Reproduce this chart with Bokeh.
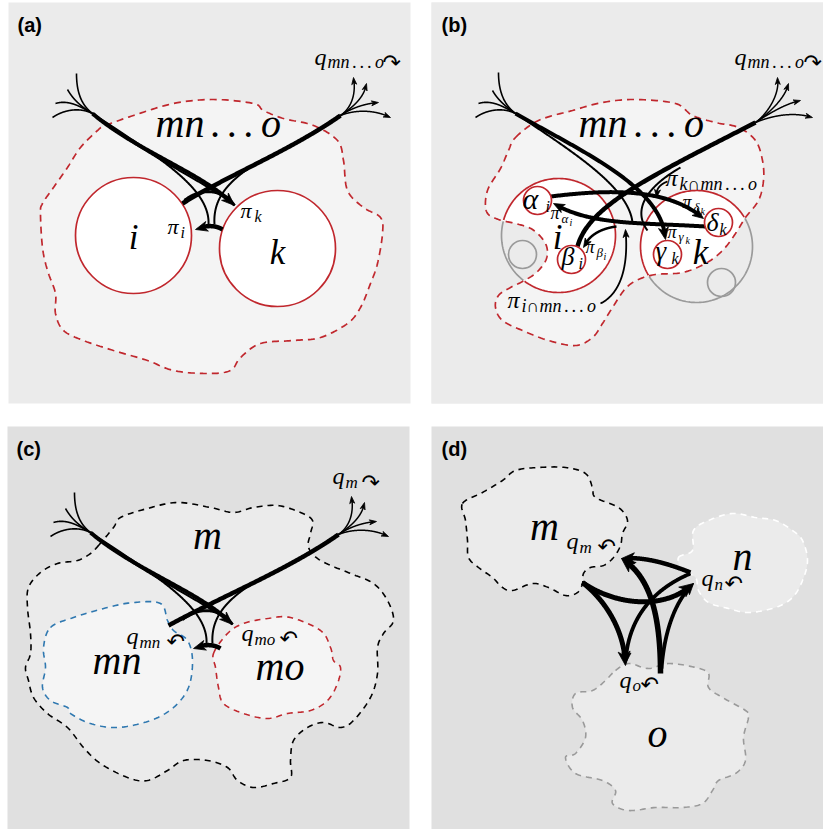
import numpy as np
from bokeh.plotting import figure
from bokeh.models import Range1d, ColumnDataSource
from bokeh.core.properties import value, field
from bokeh.embed import file_html
from bokeh.resources import INLINE

# ---------------- panels ----------------
PANEL_LEFT = [8, 431, 7, 431]
PANEL_RIGHT = [410, 823, 409, 823]
PANEL_TOP = [2, 2, 426, 426]
PANEL_BOTTOM = [403, 403, 829, 829]
PANEL_FILL = ["#ebebeb", "#ebebeb", "#e0e0e0", "#e0e0e0"]

RED = "#c0272d"
BLUE = "#2f78b0"
GREY = "#9a9a9a"

# ---------------- blob outlines (control points) ----------------
BLOB_A_X = [105, 133, 173, 213, 253, 263, 283, 313, 337, 343, 347, 363, 380, 382, 377, 370, 360, 347, 320, 293,
            260, 240, 230, 207, 173, 147, 113, 83, 63, 55, 55, 47, 42, 40, 42, 53, 67, 80, 97]
BLOB_A_Y = [125, 115, 103, 99, 103, 110, 118, 125, 140, 160, 190, 207, 217, 233, 263, 283, 307, 323, 337, 340,
            343, 357, 370, 373, 370, 360, 350, 340, 330, 313, 293, 270, 247, 213, 203, 187, 167, 147, 130]

BLOB_B_X = [515, 538, 572, 602, 635, 675, 692, 715, 738, 755, 762, 763, 758, 745, 735, 722, 705, 682, 655, 638,
            625, 612, 602, 592, 575, 548, 522, 502, 495, 498, 510, 522, 536, 546, 545, 532, 515, 498, 486, 487,
            500, 508]
BLOB_B_Y = [137, 120, 110, 102, 99, 103, 115, 122, 127, 140, 160, 180, 200, 217, 233, 250, 263, 272, 274, 279,
            288, 307, 323, 337, 345, 340, 330, 320, 307, 295, 287, 281, 272, 258, 243, 229, 223, 219, 211, 190,
            168, 150]

BLOB_CM_X = [98, 113, 120, 147, 177, 210, 233, 253, 277, 300, 312, 310, 308, 320, 350, 373, 387, 393, 383, 377,
             377, 370, 353, 340, 323, 307, 293, 290, 290, 273, 253, 237, 227, 207, 183, 167, 147, 127, 100, 83,
             67, 47, 33, 28, 25, 30, 30, 27, 28, 40, 57, 77, 90]
BLOB_CM_Y = [545, 527, 517, 508, 502, 507, 512, 507, 505, 512, 520, 533, 547, 560, 573, 583, 600, 620, 633, 647,
             673, 697, 720, 727, 722, 727, 740, 760, 777, 783, 787, 780, 767, 760, 760, 770, 780, 777, 763, 747,
             727, 713, 697, 680, 667, 653, 633, 607, 587, 572, 563, 560, 553]

BLOB_CMN_X = [50, 73, 107, 133, 160, 167, 173, 187, 192, 188, 173, 150, 117, 90, 70, 67, 50, 42, 45, 43]
BLOB_CMN_Y = [627, 617, 607, 602, 603, 620, 630, 640, 660, 687, 707, 720, 727, 723, 713, 707, 700, 687, 667, 647]

BLOB_CMO_X = [213, 227, 243, 267, 290, 320, 330, 333, 340, 337, 327, 310, 287, 267, 243, 223, 218, 215]
BLOB_CMO_Y = [653, 633, 623, 618, 617, 630, 647, 660, 667, 683, 700, 710, 713, 718, 713, 703, 687, 667]

BLOB_DM_X = [462, 482, 502, 515, 538, 565, 585, 592, 595, 618, 627, 622, 620, 613, 603, 590, 583, 582, 577, 565,
             548, 532, 512, 502, 492, 478, 468, 467, 465]
BLOB_DM_Y = [503, 492, 480, 470, 467, 467, 473, 487, 497, 507, 520, 533, 545, 557, 565, 567, 573, 583, 592, 595,
             587, 583, 590, 587, 577, 567, 557, 540, 520]

BLOB_DN_X = [678, 692, 693, 708, 732, 755, 775, 792, 802, 807, 802, 792, 775, 748, 728, 708, 698, 695, 682]
BLOB_DN_Y = [557, 550, 530, 520, 513, 517, 520, 530, 540, 560, 580, 597, 607, 612, 608, 602, 590, 577, 570]

BLOB_DO_X = [615, 628, 648, 668, 695, 708, 708, 722, 745, 748, 743, 745, 735, 718, 712, 702, 682, 655, 628, 612,
             615, 602, 575, 565, 575, 585, 582, 572, 575, 592, 605]
BLOB_DO_Y = [670, 663, 668, 663, 667, 673, 687, 697, 710, 717, 737, 760, 773, 780, 790, 803, 807, 807, 810, 803,
             790, 780, 773, 757, 753, 737, 720, 707, 693, 690, 680]

# ---------------- circles ----------------
CIRC_A_X = [133, 277]
CIRC_A_Y = [235, 248]
CIRC_A_R = [58, 58]

CIRC_B_X = [558, 696]          # i, k
CIRC_B_Y = [235, 246]
CIRC_B_R = [57, 56]
SMALL_GREY_X = [522, 721]
SMALL_GREY_Y = [254, 282]
SMALL_GREY_R = [14, 14]
SUB_X = [537, 571, 667, 718]   # alpha_i, beta_i, gamma_k, delta_k
SUB_Y = [200, 259, 254, 222]
SUB_R = [14, 14, 14, 14]

# ---------------- arrows: cubic control points, width, head length, head width ----------------
ARROWS_A = [
    (76, 73, 76, 90, 80, 104, 92, 113, 1.6, 0, 0),
    (67, 89, 72, 98, 80, 106, 92, 113, 1.6, 0, 0),
    (55, 103, 68, 99, 80, 106, 92, 113, 1.6, 0, 0),
    (52, 117, 62, 110, 78, 106, 92, 113, 1.6, 0, 0),
    (92, 113, 135, 150, 205, 174, 234, 205, 4.0, 13, 10),
    (92, 113, 145, 155, 200, 179, 232, 203, 2.0, 0, 0),
    (92, 113, 155, 155, 210, 187, 208, 224, 2.0, 0, 0),
    (182, 203, 225, 176, 290, 150, 340, 115, 4.5, 0, 0),
    (214, 224, 212, 195, 232, 177, 262, 159, 2.0, 0, 0),
    (184, 200, 200, 187, 222, 188, 234, 205, 3.0, 0, 0),
    (340, 115, 350, 108, 356, 95, 353, 77, 1.5, 7, 5),
    (340, 115, 352, 107, 364, 97, 366, 83, 1.5, 7, 5),
    (340, 115, 352, 107, 365, 103, 378, 102, 1.5, 7, 5),
    (340, 115, 352, 110, 372, 108, 390, 117, 1.5, 7, 5),
    (222, 229, 214, 224, 204, 225, 195, 229, 4.5, 12, 10),
]
OFFSET_C = (-2, 419)
R1_START_C = (168, 625)

ARROWS_B = [
    (498, 72, 498, 90, 503, 104, 515, 113, 1.6, 0, 0),
    (492, 90, 497, 99, 505, 106, 515, 113, 1.6, 0, 0),
    (478, 103, 491, 99, 503, 106, 515, 113, 1.6, 0, 0),
    (475, 117, 485, 110, 501, 106, 515, 113, 1.6, 0, 0),
    (515, 113, 585, 153, 662, 187, 665, 239, 4.0, 12, 10),
    (515, 113, 575, 153, 628, 187, 632, 222, 2.0, 0, 0),
    (577, 246, 588, 205, 650, 176, 755, 122, 4.5, 0, 0),
    (647, 230, 632, 210, 645, 187, 680, 167, 2.0, 0, 0),
    (755, 122, 765, 115, 780, 95, 777, 77, 1.5, 7, 5),
    (755, 122, 767, 114, 785, 98, 788, 83, 1.5, 7, 5),
    (755, 122, 767, 114, 785, 103, 800, 100, 1.5, 7, 5),
    (755, 122, 767, 117, 790, 110, 812, 117, 1.5, 7, 5),
    (550, 196, 600, 190, 665, 185, 703, 218, 4.0, 11, 9),
    (705, 226, 640, 222, 590, 225, 553, 203, 4.0, 11, 9),
    (616, 226, 600, 228, 588, 235, 583, 247, 2.5, 9, 7),
    (600, 303, 622, 292, 628, 262, 625, 229, 1.8, 8, 6),
    (667, 181, 659, 184, 655, 189, 656, 197, 1.8, 8, 6),
]

ARROWS_D = [
    (582, 582, 605, 600, 624, 630, 625, 665, 5.0, 14, 12),
    (582, 582, 615, 605, 665, 610, 693, 583, 5.0, 14, 12),
    (660, 673, 660, 610, 648, 575, 621, 558, 5.5, 14, 12),
    (661, 668, 664, 630, 675, 600, 693, 583, 3.8, 11, 9),
    (690, 572, 665, 562, 642, 556, 621, 558, 4.5, 13, 11),
    (690, 573, 650, 590, 627, 620, 625, 663, 3.8, 11, 9),
]

# ---------------- labels: text, x, baseline y, font size ----------------
MNO_BIG = "mn\u2006.\u2006.\u2006.\u2006o"
MNO_SUB = "mn\u2006.\u2006.\u2006.\u2006o"

PANEL_LABELS = [("(a)", 17, 30, 20), ("(b)", 441, 30, 20), ("(c)", 16, 454, 20), ("(d)", 441, 454, 20)]

ITALIC_LEFT = [
    # panel a
    (MNO_BIG, 155, 135, 40),
    ("π", 167, 233, 22), ("i", 180, 237, 16),
    ("π", 240, 217, 22), ("k", 254, 221, 16),
    ("q", 314, 64, 24), (MNO_SUB, 327, 67, 18),
    # panel b
    (MNO_BIG, 578, 135, 40),
    ("q", 734, 64, 24), (MNO_SUB, 747, 67, 18),
    ("α", 522, 207, 30), ("i", 545, 211, 16),
    ("β", 561, 264, 26), ("i", 578, 268, 16),
    ("γ", 655, 259, 27), ("k", 671, 263, 16),
    ("δ", 706, 230, 26), ("k", 719, 234, 16),
    ("π", 550, 218, 18), ("α", 561, 222, 13), ("i", 569, 225, 10),
    ("π", 585, 252, 18), ("β", 596, 256, 13), ("i", 603, 259, 10),
    ("π", 667, 237, 18), ("γ", 678, 240, 13), ("k", 685, 243, 10),
    ("π", 682, 207, 18), ("δ", 693, 211, 13), ("k", 700, 214, 10),
    ("π", 665, 185, 24), ("k∩" + MNO_SUB, 679, 189, 18),
    ("π", 507, 307, 24), ("i∩" + MNO_SUB, 521, 311, 18),
    # panel c
    ("mn", 92, 672, 40), ("mo", 255, 678, 40),
    ("q", 126, 643, 24), ("mn", 139, 647, 17),
    ("q", 241, 640, 24), ("mo", 254, 644, 17),
    ("q", 332, 483, 24), ("m", 345, 487, 17),
    # panel d
    ("q", 566, 548, 24), ("m", 579, 552, 17),
    ("q", 701, 585, 24), ("n", 714, 589, 17),
    ("q", 619, 687, 24), ("o", 632, 690, 17),
]
ITALIC_CENTER = [
    ("i", 133, 247, 35), ("k", 277, 262, 35),
    ("i", 557, 247, 35), ("k", 700, 262, 35),
    ("m", 207, 547, 40),
    ("m", 544, 538, 40), ("n", 742, 568, 40), ("o", 657, 745, 40),
]
SYMBOLS = [
    ("↷", 382, 69, 22), ("↷", 803, 69, 22),
    ("↶", 166, 648, 22), ("↶", 279, 645, 22), ("↷", 361, 489, 22),
    ("↶", 597, 553, 22), ("↶", 724, 590, 22), ("↶", 640, 691, 22),
]

SERIF = "Liberation Serif"
SANS = "Liberation Sans"
BASELINE_FIX = 0.30   # observed downward offset of rendered text, as a fraction of its size

# ---------------- helpers ----------------
p = figure(width=823, height=829, x_range=Range1d(0, 823), y_range=Range1d(829, 0),
           x_axis_type=None, y_axis_type=None, min_border=0, toolbar_location=None,
           output_backend="svg", outline_line_color=None, background_fill_color="white",
           border_fill_color="white")


def smooth_closed(xs, ys, n=14):
    P = np.column_stack([xs, ys]).astype(float)
    m = len(P)
    t = np.linspace(0, 1, n, endpoint=False)[:, None]
    segs = []
    for i in range(m):
        p0, p1, p2, p3 = P[(i - 1) % m], P[i], P[(i + 1) % m], P[(i + 2) % m]
        segs.append(0.5 * ((2 * p1) + (-p0 + p2) * t + (2 * p0 - 5 * p1 + 4 * p2 - p3) * t ** 2
                           + (-p0 + 3 * p1 - 3 * p2 + p3) * t ** 3))
    Q = np.vstack(segs)
    return Q[:, 0], Q[:, 1]


def inside(px, py, qx, qy):
    x0, y0 = np.asarray(qx), np.asarray(qy)
    x1, y1 = np.roll(x0, -1), np.roll(y0, -1)
    px = np.asarray(px)[:, None]
    py = np.asarray(py)[:, None]
    cond = (y0 > py) != (y1 > py)
    xint = x0 + (py - y0) * (x1 - x0) / (y1 - y0 + 1e-12)
    return ((cond & (px < xint)).sum(axis=1) % 2) == 1


def blob(xs, ys, fill, line, dash="7 5", width=1.7, outline=True):
    sx, sy = smooth_closed(xs, ys)
    p.patch(list(sx), list(sy), fill_color=fill, line_color=line if outline else None,
            line_width=width, line_dash=dash)
    return sx, sy


def draw_arrows(arrows, offset=(0, 0)):
    lx, ly, lw, hx, hy = [], [], [], [], []
    for a in arrows:
        P = np.array(a[:8], float).reshape(4, 2) + np.array(offset, float)
        w, L, Wd = a[8], a[9], a[10]
        t = np.linspace(0, 1, 160)[:, None]
        B = (1 - t) ** 3 * P[0] + 3 * (1 - t) ** 2 * t * P[1] + 3 * (1 - t) * t ** 2 * P[2] + t ** 3 * P[3]
        if L > 0:
            tip = B[-1]
            dist = np.hypot(B[:, 0] - tip[0], B[:, 1] - tip[1])
            idx = np.where(dist > L)[0]
            back = B[idx[-1]] if len(idx) else B[0]
            d = tip - back
            d = d / np.hypot(*d)
            nrm = np.array([-d[1], d[0]])
            base = tip - d * L
            notch = tip - d * L * 0.72
            pts = [tip, base + nrm * Wd / 2, notch, base - nrm * Wd / 2]
            hx.append([q[0] for q in pts])
            hy.append([q[1] for q in pts])
            B = B[dist > 0.6 * L]
        lx.append(list(B[:, 0]))
        ly.append(list(B[:, 1]))
        lw.append(w)
    p.multi_line(xs="xs", ys="ys", line_width="w", line_color="black", line_join="round",
                 source=ColumnDataSource(dict(xs=lx, ys=ly, w=lw)))
    if hx:
        p.patches(hx, hy, fill_color="black", line_color="black", line_width=0.8, line_join="round")


def circle_pts(cx, cy, r, n=240):
    a = np.linspace(0, 2 * np.pi, n)
    return cx + r * np.cos(a), cy + r * np.sin(a)


def add_texts(entries, font, style, align):
    src = ColumnDataSource(dict(x=[e[1] for e in entries],
                                y=[e[2] - BASELINE_FIX * e[3] for e in entries],
                                text=[e[0] for e in entries], size=[f"{e[3]}px" for e in entries]))
    p.text(x="x", y="y", text="text", source=src, text_font=value(font), text_font_size=field("size"),
           text_font_style=style, text_align=align, text_baseline="alphabetic", text_color="black")


# ---------------- draw ----------------
p.quad(left=PANEL_LEFT, right=PANEL_RIGHT, top=PANEL_TOP, bottom=PANEL_BOTTOM,
       fill_color=PANEL_FILL, line_color=None)

# panel (a)
blob(BLOB_A_X, BLOB_A_Y, "#f4f4f4", RED)
p.circle(x=CIRC_A_X, y=CIRC_A_Y, radius=CIRC_A_R, fill_color="white", line_color=RED, line_width=1.7)
draw_arrows(ARROWS_A)

# panel (b)
bx, by = blob(BLOB_B_X, BLOB_B_Y, "#f4f4f4", RED, outline=False)
p.circle(x=CIRC_B_X, y=CIRC_B_Y, radius=CIRC_B_R, fill_color="white", line_color=None)
rect_x = [PANEL_LEFT[1], PANEL_RIGHT[1], PANEL_RIGHT[1], PANEL_LEFT[1]]
rect_y = [PANEL_TOP[1], PANEL_TOP[1], PANEL_BOTTOM[1], PANEL_BOTTOM[1]]
p.multi_polygons(xs=[[[rect_x, list(bx)]]], ys=[[[rect_y, list(by)]]], fill_color=PANEL_FILL[1], line_color=None)
for cx, cy, r in zip(CIRC_B_X, CIRC_B_Y, CIRC_B_R):
    px_, py_ = circle_pts(cx, cy, r)
    ins = inside(px_, py_, bx, by)
    gx = np.where(ins, np.nan, px_)
    rx = np.where(ins, px_, np.nan)
    p.line(list(gx), list(py_), line_color=GREY, line_width=1.7)
    p.line(list(rx), list(py_), line_color=RED, line_width=1.7)
p.circle(x=SMALL_GREY_X, y=SMALL_GREY_Y, radius=SMALL_GREY_R, fill_color=None, line_color=GREY, line_width=1.7)
p.patch(list(bx), list(by), fill_color=None, line_color=RED, line_width=1.7, line_dash="7 5")
draw_arrows(ARROWS_B)
p.circle(x=SUB_X, y=SUB_Y, radius=SUB_R, fill_color="white", line_color=RED, line_width=1.7)

# panel (c)
blob(BLOB_CM_X, BLOB_CM_Y, "#ebebeb", "black", dash="6 5", width=1.6)
blob(BLOB_CMN_X, BLOB_CMN_Y, "#f5f5f5", BLUE, dash="6 5", width=1.6)
blob(BLOB_CMO_X, BLOB_CMO_Y, "#f5f5f5", RED, dash="6 5", width=1.6)
arrows_c = list(ARROWS_A)
r1 = list(arrows_c[7])
r1[0], r1[1] = R1_START_C[0] - OFFSET_C[0], R1_START_C[1] - OFFSET_C[1]
arrows_c[7] = tuple(r1)
draw_arrows(arrows_c, OFFSET_C)

# panel (d)
blob(BLOB_DM_X, BLOB_DM_Y, "#ebebeb", "black", dash="6 5", width=1.6)
blob(BLOB_DN_X, BLOB_DN_Y, "#ebebeb", "white", dash="6 5", width=1.6)
blob(BLOB_DO_X, BLOB_DO_Y, "#ebebeb", GREY, dash="6 5", width=1.6)
draw_arrows(ARROWS_D)

# texts
add_texts(ITALIC_LEFT, SERIF, "italic", "left")
add_texts(ITALIC_CENTER, SERIF, "italic", "center")
add_texts(SYMBOLS, "DejaVu Sans", "normal", "left")
add_texts(PANEL_LABELS, SANS, "bold", "left")

open("out.html", "w").write(file_html(p, INLINE))
